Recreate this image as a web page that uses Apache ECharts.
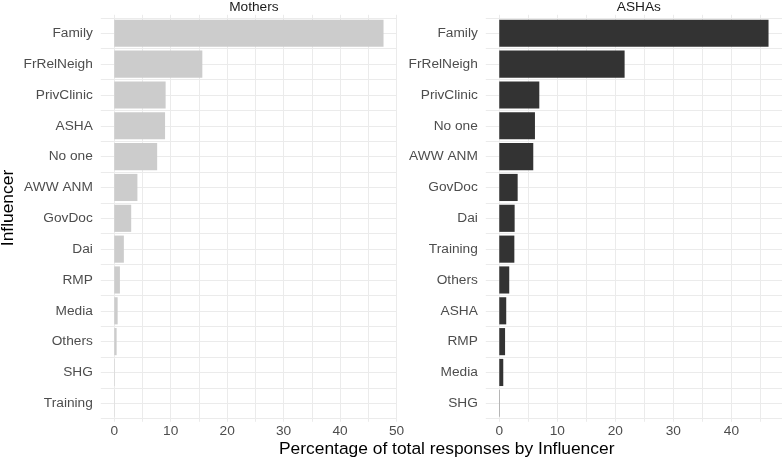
<!DOCTYPE html>
<html>
<head>
<meta charset="utf-8">
<script src="https://cdn.jsdelivr.net/npm/echarts@6/dist/echarts.min.js"></script>
<style>html,body{margin:0;padding:0;background:#fff}#c{width:782px;height:459px}</style>
</head>
<body>
<div id="c"></div>
<script>
// Data
const mothersCats = ['Family','FrRelNeigh','PrivClinic','ASHA','No one','AWW ANM','GovDoc','Dai','RMP','Media','Others','SHG','Training'];
const mothersVals = [47.7, 15.6, 9.1, 9.0, 7.6, 4.1, 3.0, 1.7, 1.0, 0.6, 0.42, 0.08, 0.05];
const ashasCats = ['Family','FrRelNeigh','PrivClinic','No one','AWW ANM','GovDoc','Dai','Training','Others','ASHA','RMP','Media','SHG'];
const ashasVals = [46.4, 21.6, 6.9, 6.15, 5.86, 3.17, 2.65, 2.6, 1.72, 1.2, 1.0, 0.69, 0.05];
const panelTitles = ['Mothers', 'ASHAs'];
const xTitle = 'Percentage of total responses by Influencer';
const yTitle = 'Influencer';

const FONT = 'Liberation Sans, Arial, sans-serif';
const GRID_COLOR = '#ebebeb';
const panels = [
  {cats: mothersCats, vals: mothersVals, left: 100.8, color: '#cccccc'},
  {cats: ashasCats, vals: ashasVals, left: 485.8, color: '#333333'}
];
const PANEL_W = 296.2, PANEL_TOP = 14.8, PANEL_H = 407;
const n = 13;
const band = PANEL_H / (n - 1 + 1.2);
const barTop = PANEL_TOP + 0.6 * band - band / 2;
const barH = n * band;

const grid = [], xAxis = [], yAxis = [], series = [], title = [];
panels.forEach((p, i) => {
  const mx = Math.max(...p.vals);
  const xmin = -0.05 * mx, xmax = 1.05 * mx;
  // background grid (gridlines + x labels)
  grid.push({left: p.left, width: PANEL_W, top: PANEL_TOP, height: PANEL_H});
  // bar grid
  grid.push({left: p.left, width: PANEL_W, top: barTop, height: barH});
  const gA = 2 * i, gB = 2 * i + 1;
  xAxis.push({
    type: 'value', gridIndex: gA, min: xmin, max: xmax, splitNumber: 10,
    axisLine: {show: false}, axisTick: {show: false},
    axisLabel: {
      showMinLabel: false, showMaxLabel: false, color: '#4d4d4d', fontSize: 13.7, fontFamily: FONT, margin: 2,
      formatter: v => (Math.abs(v / 10 - Math.round(v / 10)) < 1e-6) ? String(Math.round(v)) : ''
    },
    splitLine: {show: true, showMinLine: false, showMaxLine: false, lineStyle: {color: GRID_COLOR, width: 1}}
  });
  xAxis.push({
    type: 'value', gridIndex: gB, min: xmin, max: xmax, show: false,
    splitLine: {show: false}
  });
  yAxis.push({
    type: 'value', gridIndex: gA, min: -0.6, max: n - 1 + 0.6, splitNumber: 26, inverse: true,
    axisLine: {show: false}, axisTick: {show: false}, axisLabel: {show: false},
    splitLine: {show: true, showMinLine: false, showMaxLine: false, lineStyle: {color: GRID_COLOR, width: 1}}
  });
  yAxis.push({
    type: 'category', gridIndex: gB, data: p.cats, inverse: true,
    axisLine: {show: false}, axisTick: {show: false}, splitLine: {show: false},
    axisLabel: {color: '#4d4d4d', fontSize: 13.7, fontFamily: FONT, margin: 8}
  });
  series.push({
    type: 'bar', xAxisIndex: 2 * i + 1, yAxisIndex: 2 * i + 1,
    data: p.vals, barWidth: '88%', itemStyle: {color: p.color}, silent: true
  });
  title.push({
    text: panelTitles[i], left: p.left + PANEL_W / 2, top: -5, textAlign: 'center',
    textStyle: {fontSize: 13.7, fontWeight: 'normal', color: '#1a1a1a', fontFamily: FONT}
  });
});
title.push({
  text: xTitle, left: 441.7, top: 436, textAlign: 'center',
  textStyle: {fontSize: 17.4, fontWeight: 'normal', color: '#000', fontFamily: FONT}
});

const chart = echarts.init(document.getElementById('c'), null, {renderer: 'canvas'});
chart.setOption({
  animation: false,
  backgroundColor: '#fff',
  title, grid, xAxis, yAxis, series,
  graphic: [{
    type: 'text', x: 8, y: 208, rotation: Math.PI / 2,
    style: {text: yTitle, fontSize: 17.4, fontFamily: FONT, fill: '#000', align: 'center', verticalAlign: 'middle'}
  }]
});
</script>
</body>
</html>
